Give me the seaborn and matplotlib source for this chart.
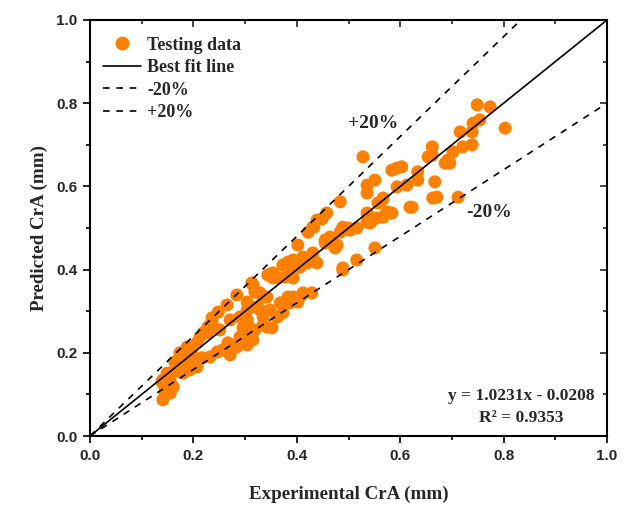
import matplotlib
matplotlib.use("Agg")
import matplotlib.pyplot as plt
import seaborn as sns
import pandas as pd
from matplotlib.lines import Line2D
from matplotlib.ticker import MultipleLocator

experimental = [
    0.141, 0.149, 0.145, 0.161, 0.141, 0.155, 0.149, 0.161, 0.164, 0.178, 0.188, 0.207, 0.174, 0.197,
    0.217, 0.232, 0.246, 0.257, 0.271, 0.188, 0.207, 0.219, 0.228, 0.251, 0.236, 0.271, 0.304, 0.319,
    0.290, 0.309, 0.267, 0.284, 0.193, 0.180, 0.155, 0.139, 0.145, 0.155,
    0.199, 0.213, 0.228, 0.236, 0.248, 0.265, 0.284, 0.315, 0.335, 0.323, 0.304, 0.290, 0.335, 0.342,
    0.315, 0.296,
    0.489, 0.439, 0.387, 0.348, 0.313, 0.354, 0.319, 0.329, 0.342, 0.410, 0.429, 0.387, 0.402, 0.368,
    0.304, 0.309, 0.329, 0.348, 0.362, 0.373, 0.304, 0.335, 0.352, 0.296, 0.306, 0.290, 0.304,
    0.528, 0.594, 0.584, 0.603, 0.551, 0.536, 0.536, 0.667, 0.662, 0.692, 0.696, 0.484, 0.565, 0.594,
    0.613, 0.634, 0.619, 0.663, 0.712, 0.574, 0.584, 0.458, 0.439, 0.431, 0.422, 0.536, 0.555, 0.536,
    0.489, 0.499, 0.484, 0.464, 0.455, 0.478, 0.402, 0.551, 0.516, 0.489, 0.431, 0.412, 0.393, 0.383,
    0.373, 0.354, 0.344, 0.387, 0.406, 0.420, 0.377, 0.364, 0.393, 0.412, 0.393, 0.383,
    0.567, 0.557, 0.580, 0.567, 0.542, 0.503, 0.516, 0.470, 0.474, 0.455, 0.433, 0.449,
    0.749, 0.774, 0.741, 0.754, 0.803, 0.716, 0.739, 0.662, 0.721, 0.739, 0.654, 0.702, 0.687, 0.634,
    0.671, 0.623,
]
predicted = [
    0.087, 0.103, 0.118, 0.118, 0.135, 0.130, 0.151, 0.154, 0.178, 0.166, 0.178, 0.166, 0.200, 0.195,
    0.188, 0.190, 0.202, 0.207, 0.195, 0.214, 0.224, 0.248, 0.248, 0.255, 0.274, 0.279, 0.272, 0.255,
    0.238, 0.231, 0.224, 0.214, 0.159, 0.151, 0.142, 0.130, 0.106, 0.103,
    0.214, 0.238, 0.262, 0.284, 0.298, 0.315, 0.339, 0.363, 0.334, 0.310, 0.303, 0.286, 0.286, 0.262,
    0.231, 0.224,
    0.399, 0.416, 0.411, 0.387, 0.368, 0.380, 0.346, 0.344, 0.334, 0.339, 0.344, 0.320, 0.322, 0.320,
    0.322, 0.308, 0.303, 0.303, 0.286, 0.296, 0.279, 0.267, 0.260, 0.260, 0.248, 0.231, 0.219,
    0.671, 0.644, 0.639, 0.647, 0.615, 0.603, 0.584, 0.611, 0.675, 0.663, 0.656, 0.563, 0.567, 0.599,
    0.603, 0.615, 0.550, 0.572, 0.574, 0.538, 0.536, 0.536, 0.519, 0.502, 0.490, 0.536, 0.524, 0.514,
    0.502, 0.500, 0.490, 0.478, 0.471, 0.459, 0.459, 0.452, 0.423, 0.404, 0.440, 0.430, 0.423, 0.418,
    0.411, 0.392, 0.387, 0.399, 0.406, 0.416, 0.382, 0.380, 0.380, 0.344, 0.334, 0.334,
    0.572, 0.560, 0.536, 0.526, 0.512, 0.495, 0.500, 0.464, 0.452, 0.464, 0.502, 0.522,
    0.796, 0.791, 0.752, 0.760, 0.740, 0.731, 0.731, 0.695, 0.695, 0.700, 0.671, 0.683, 0.656, 0.635,
    0.574, 0.550,
]
ref_x = [0.0, 1.0]
fit_y = [0.0, 1.0]
plus20_y = [0.0, 1.2]
minus20_y = [0.0, 0.8]

ORANGE = "#FF8000"
df = pd.DataFrame({"exp": experimental, "pred": predicted})

sns.set_style("white")
plt.rcParams["font.family"] = ["Liberation Sans", "DejaVu Sans"]
SERIF = "Liberation Serif"

fig = plt.figure(figsize=(6.33, 5.08), dpi=100)
ax = fig.add_axes([90 / 633, 72 / 508, 517 / 633, 416 / 508])

dash = (0, (4, 4))
sns.lineplot(x=ref_x, y=fit_y, ax=ax, color="black", lw=1.2, zorder=3)
sns.lineplot(x=ref_x, y=minus20_y, ax=ax, color="black", lw=1.2, linestyle=dash, zorder=3)
sns.lineplot(x=ref_x, y=plus20_y, ax=ax, color="black", lw=1.2, linestyle=dash, zorder=3)
sns.scatterplot(data=df, x="exp", y="pred", ax=ax, color=ORANGE, s=88, edgecolor="none",
                linewidth=0, zorder=2)

ax.set_xlim(0, 1)
ax.set_ylim(0, 1)
ax.xaxis.set_major_locator(MultipleLocator(0.2))
ax.yaxis.set_major_locator(MultipleLocator(0.2))
ax.xaxis.set_minor_locator(MultipleLocator(0.1))
ax.yaxis.set_minor_locator(MultipleLocator(0.1))
ax.tick_params(which="both", direction="out", bottom=True, left=True, top=False, right=False,
               width=1.2, color="black")
ax.tick_params(which="major", length=5, labelsize=11, pad=4)
ax.tick_params(which="minor", length=3)
ax.set_xticklabels([f"{v:.1f}" for v in ax.get_xticks()], fontweight="bold")
ax.set_yticklabels([f"{v:.1f}" for v in ax.get_yticks()], fontweight="bold")

ax2 = ax.secondary_xaxis("top")
ax2.xaxis.set_major_locator(MultipleLocator(0.2))
ax2.xaxis.set_minor_locator(MultipleLocator(0.1))
ax2.tick_params(which="both", direction="in", labeltop=False, width=1.2)
ax2.tick_params(which="major", length=5)
ax2.tick_params(which="minor", length=3)
ax3 = ax.secondary_yaxis("right")
ax3.yaxis.set_major_locator(MultipleLocator(0.2))
ax3.yaxis.set_minor_locator(MultipleLocator(0.1))
ax3.tick_params(which="both", direction="in", labelright=False, width=1.2)
ax3.tick_params(which="major", length=5)
ax3.tick_params(which="minor", length=3)
for a in [ax2, ax3]:
    for sp in a.spines.values():
        sp.set_visible(False)

for sp in ax.spines.values():
    sp.set_visible(True)
    sp.set_color("black")
    sp.set_linewidth(1.5)

ax.set_xlabel("Experimental CrA (mm)", fontsize=13.7, fontweight="bold", family=SERIF, labelpad=17)
ax.set_ylabel("Predicted CrA (mm)", fontsize=13.7, fontweight="bold", family=SERIF, labelpad=6)

ax.text(0.547, 0.752, "+20%", ha="center", va="center", fontsize=14, fontweight="bold", family=SERIF)
ax.text(0.772, 0.538, "-20%", ha="center", va="center", fontsize=14, fontweight="bold", family=SERIF)
ax.text(0.835, 0.096, "y = 1.0231x - 0.0208", ha="center", va="center", fontsize=12.5,
        fontweight="bold", family=SERIF)
ax.text(0.835, 0.043, "R² = 0.9353", ha="center", va="center", fontsize=12.5,
        fontweight="bold", family=SERIF)

handles = [
    Line2D([], [], marker="o", color=ORANGE, linestyle="none", markersize=9),
    Line2D([], [], color="black", lw=1.2),
    Line2D([], [], color="black", lw=1.2, linestyle=dash),
    Line2D([], [], color="black", lw=1.2, linestyle=dash),
]
ax.legend(handles, ["Testing data", "Best fit line", "-20%", "+20%"], loc="upper left",
          frameon=False, prop={"family": SERIF, "weight": "bold", "size": 13},
          handlelength=2.15, handletextpad=0.3, labelspacing=0.3, borderaxespad=0.3,
          bbox_to_anchor=(0.0, 0.99))

fig.savefig("out.png", dpi=100)
